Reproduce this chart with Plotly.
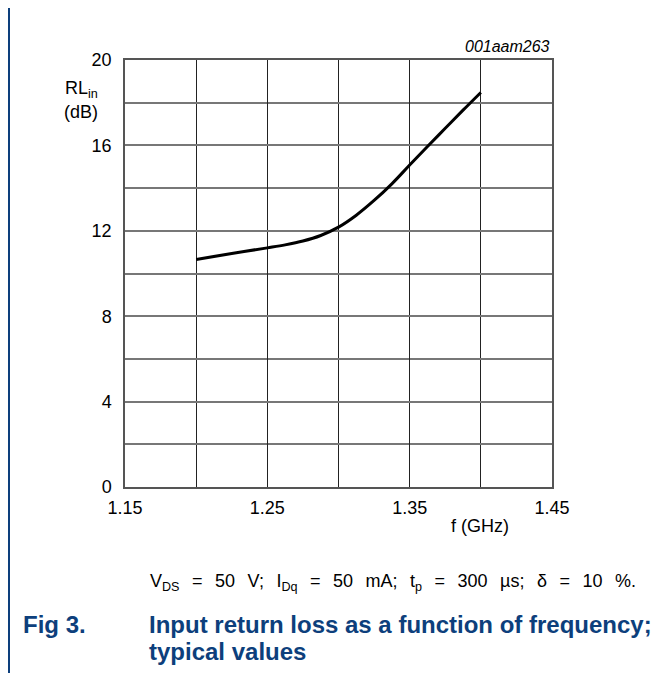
import plotly.graph_objects as go

freq_ghz = [1.20, 1.225, 1.25, 1.2625, 1.275, 1.2875, 1.30, 1.3125, 1.325, 1.3375, 1.35, 1.3625, 1.375, 1.3875, 1.40]
rl_in_db = [10.66, 10.94, 11.2, 11.34, 11.52, 11.78, 12.17, 12.73, 13.42, 14.2, 15.08, 15.95, 16.8, 17.65, 18.48]

x_ticks = [1.15, 1.25, 1.35, 1.45]
y_ticks = [0, 4, 8, 12, 16, 20]

BLUE = "#0d3f7c"
FONT = "Liberation Sans, Arial, sans-serif"

# reference pixel -> paper coordinate helpers (plot area 125..552 x 60..487)
def px(X):
    return (X - 125) / 427

def py(Y):
    return (487 - Y) / 427

SP = "\u2005\u2006 "
caption = SP.join(["V<sub>DS</sub>", "=", "50", "V;", "I<sub>Dq</sub>", "=", "50", "mA;",
                   "t<sub>p</sub>", "=", "300", "µs;", "δ", "=", "10", "%."])

fig = go.Figure()
fig.add_trace(go.Scatter(x=freq_ghz, y=rl_in_db, mode="lines",
                         line=dict(color="black", width=3, shape="spline", smoothing=1.0),
                         showlegend=False, hoverinfo="skip"))

fig.update_layout(
    width=660, height=665,
    margin=dict(l=117, r=116, t=52, b=186),
    paper_bgcolor="white", plot_bgcolor="white",
    font=dict(family=FONT, size=18, color="black"),
    xaxis=dict(range=[1.15, 1.45], tickvals=x_ticks, ticktext=[f"{v:.2f}" for v in x_ticks],
               tickfont=dict(family=FONT, size=18, color="black"), ticklabelstandoff=4,
               showgrid=True, gridcolor="#222", gridwidth=1,
               minor=dict(dtick=0.05, tick0=1.15, showgrid=True, gridcolor="#222", gridwidth=1),
               showline=True, linecolor="#555", linewidth=1.5, mirror=True,
               ticks="", zeroline=False, fixedrange=True),
    yaxis=dict(range=[0, 20], tickvals=y_ticks,
               tickfont=dict(family=FONT, size=18, color="black"), ticklabelstandoff=8,
               showgrid=True, gridcolor="#777", gridwidth=1.5,
               minor=dict(dtick=2, tick0=0, showgrid=True, gridcolor="#777", gridwidth=1.5),
               showline=True, linecolor="#555", linewidth=1.5, mirror=True,
               ticks="", zeroline=False, fixedrange=True),
    shapes=[
        dict(type="line", xref="paper", yref="paper", x0=px(8), x1=px(663),
             y0=py(5), y1=py(5), line=dict(color=BLUE, width=2)),
        dict(type="line", xref="paper", yref="paper", x0=px(9), x1=px(9),
             y0=py(5), y1=py(680), line=dict(color=BLUE, width=2)),
    ],
    annotations=[
        dict(text="<i>001aam263</i>", xref="paper", yref="paper", x=1, y=py(47), xanchor="right",
             yanchor="middle", showarrow=False, font=dict(family=FONT, size=16, color="black")),
        dict(text="RL<sub>in</sub>", xref="paper", yref="paper", x=px(81), y=py(90),
             xanchor="center", yanchor="middle", showarrow=False,
             font=dict(family=FONT, size=18, color="black")),
        dict(text="(dB)", xref="paper", yref="paper", x=px(81), y=py(112),
             xanchor="center", yanchor="middle", showarrow=False,
             font=dict(family=FONT, size=18, color="black")),
        dict(text="f (GHz)", xref="paper", yref="paper", x=px(480), y=py(526),
             xanchor="center", yanchor="middle", showarrow=False,
             font=dict(family=FONT, size=18, color="black")),
        dict(text=caption, xref="paper", yref="paper", x=px(148), y=py(582),
             xanchor="left", yanchor="middle", showarrow=False,
             font=dict(family=FONT, size=18, color="black")),
        dict(text="<b>Fig 3.</b>", xref="paper", yref="paper", x=px(21), y=py(624),
             xanchor="left", yanchor="middle", showarrow=False,
             font=dict(family=FONT, size=24, color=BLUE)),
        dict(text="<b>Input return loss as a function of frequency;</b>", xref="paper", yref="paper",
             x=px(147), y=py(624), xanchor="left", yanchor="middle", showarrow=False,
             font=dict(family=FONT, size=24, color=BLUE)),
        dict(text="<b>typical values</b>", xref="paper", yref="paper",
             x=px(147), y=py(651), xanchor="left", yanchor="middle", showarrow=False,
             font=dict(family=FONT, size=24, color=BLUE)),
    ],
)

fig.write_html("out.html")
